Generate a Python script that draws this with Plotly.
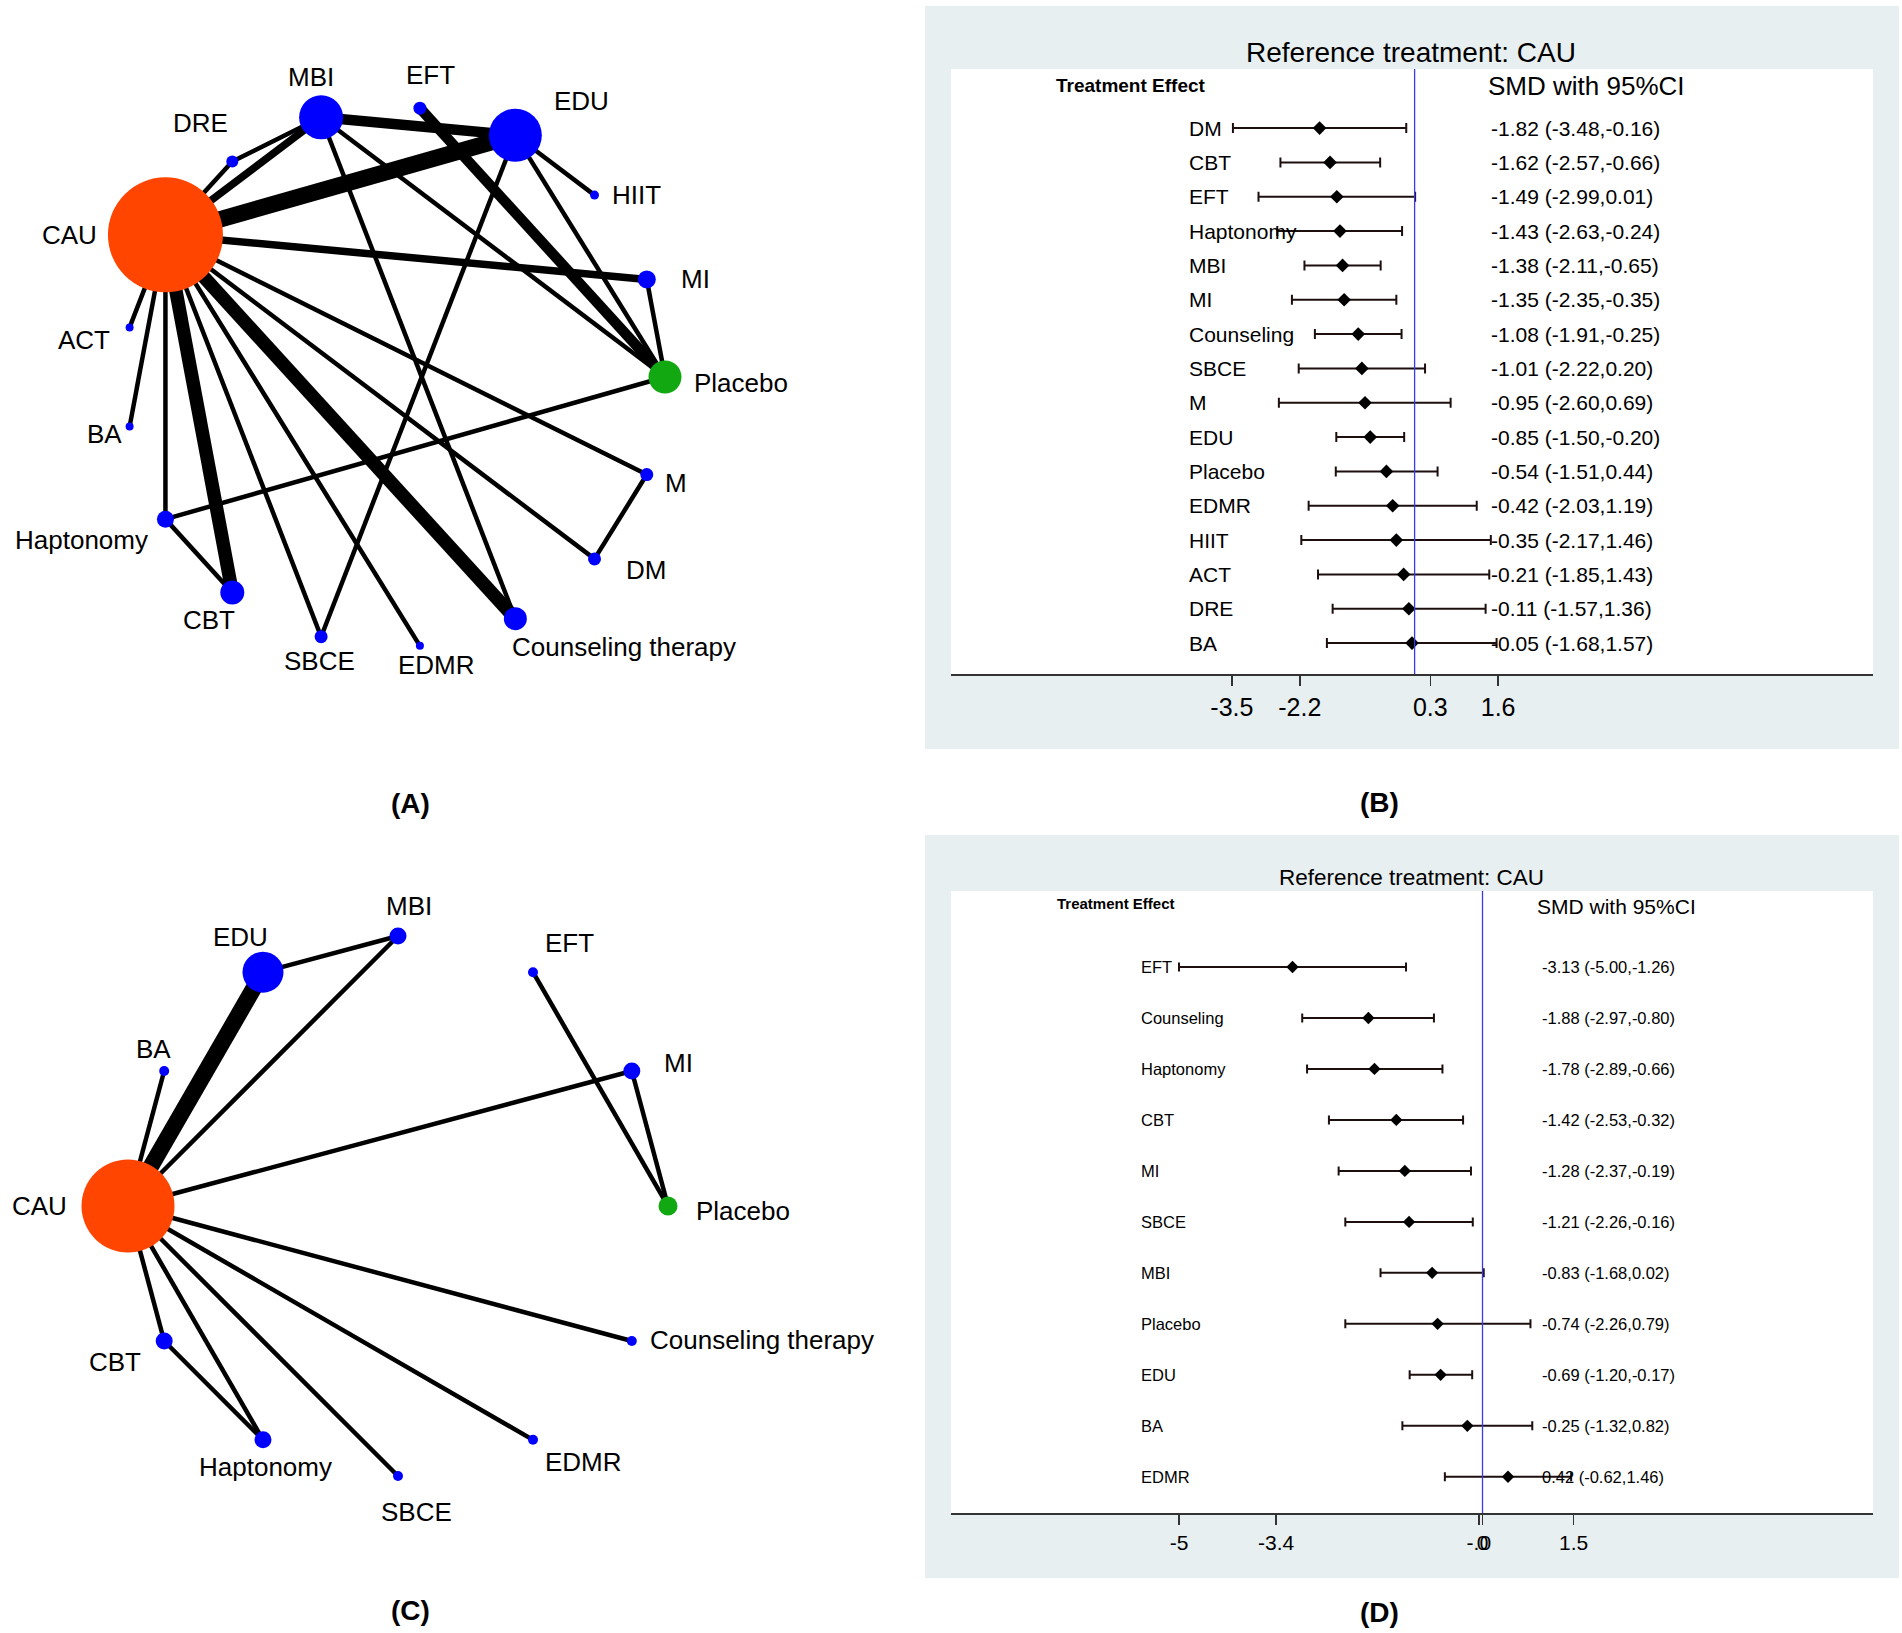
import math
import plotly.graph_objects as go

W, H = 1902, 1633

# ---------------- Panel B data (forest, all trials) ----------------
b_treat = ["DM", "CBT", "EFT", "Haptonomy", "MBI", "MI", "Counseling", "SBCE",
           "M", "EDU", "Placebo", "EDMR", "HIIT", "ACT", "DRE", "BA"]
b_est = [-1.82, -1.62, -1.49, -1.43, -1.38, -1.35, -1.08, -1.01,
         -0.95, -0.85, -0.54, -0.42, -0.35, -0.21, -0.11, -0.05]
b_lo = [-3.48, -2.57, -2.99, -2.63, -2.11, -2.35, -1.91, -2.22,
        -2.60, -1.50, -1.51, -2.03, -2.17, -1.85, -1.57, -1.68]
b_hi = [-0.16, -0.66, 0.01, -0.24, -0.65, -0.35, -0.25, 0.20,
        0.69, -0.20, 0.44, 1.19, 1.46, 1.43, 1.36, 1.57]
b_tickvals = [-3.5, -2.2, 0.3, 1.6]
b_ticktext = ["-3.5", "-2.2", "0.3", "1.6"]

# ---------------- Panel D data (forest, subset) ----------------
d_treat = ["EFT", "Counseling", "Haptonomy", "CBT", "MI", "SBCE",
           "MBI", "Placebo", "EDU", "BA", "EDMR"]
d_est = [-3.13, -1.88, -1.78, -1.42, -1.28, -1.21, -0.83, -0.74, -0.69, -0.25, 0.42]
d_lo = [-5.00, -2.97, -2.89, -2.53, -2.37, -2.26, -1.68, -2.26, -1.20, -1.32, -0.62]
d_hi = [-1.26, -0.80, -0.66, -0.32, -0.19, -0.16, 0.02, 0.79, -0.17, 0.82, 1.46]
d_tickvals = [-5, -3.4, -0.06, 0, 1.5]
d_ticktext = ["-5", "-3.4", "-.0", "0", "1.5"]

# ---------------- Panel A network ----------------
a_nodes = ["Placebo", "MI", "HIIT", "EDU", "EFT", "MBI", "DRE", "CAU", "ACT", "BA",
           "Haptonomy", "CBT", "SBCE", "EDMR", "Counseling therapy", "DM", "M"]
a_node_weight = [6.6, 3.6, 1.8, 10.6, 2.6, 8.8, 2.4, 23.0, 1.6, 1.6,
                 3.4, 4.8, 2.6, 1.6, 4.6, 2.6, 2.6]
a_edge_from = ["CAU", "CAU", "CAU", "MBI", "EFT", "CAU", "CAU", "CAU", "DRE", "MBI",
               "MBI", "EDU", "EDU", "EDU", "MI", "CAU", "M", "CAU", "CAU", "CAU",
               "CAU", "Haptonomy", "Haptonomy", "CAU", "CAU"]
a_edge_to = ["EDU", "Counseling therapy", "CBT", "EDU", "Placebo", "MBI", "MI", "DRE", "MBI", "Placebo",
             "Counseling therapy", "HIIT", "Placebo", "SBCE", "Placebo", "M", "DM", "DM", "EDMR", "SBCE",
             "Haptonomy", "CBT", "Placebo", "BA", "ACT"]
a_edge_studies = [5, 4, 4, 3, 3, 2, 2, 1, 1, 1,
                  1, 1, 1, 1, 1, 1, 1, 1, 1, 1,
                  1, 1, 1, 1, 1]

# ---------------- Panel C network ----------------
c_nodes = ["Placebo", "MI", "EFT", "MBI", "EDU", "BA", "CAU", "CBT", "Haptonomy",
           "SBCE", "EDMR", "Counseling therapy"]
c_node_weight = [3.8, 3.4, 2.0, 3.4, 8.2, 2.0, 18.6, 3.4, 3.4, 2.0, 2.0, 2.0]
c_edge_from = ["CAU", "CAU", "CAU", "EDU", "CAU", "EFT", "MI", "CAU", "CAU", "CAU", "CAU", "CAU", "CBT"]
c_edge_to = ["EDU", "BA", "MBI", "MBI", "MI", "Placebo", "Placebo", "Counseling therapy",
             "EDMR", "SBCE", "Haptonomy", "CBT", "Haptonomy"]
c_edge_studies = [5, 1, 1, 1, 1, 1, 1, 1, 1, 1, 1, 1, 1]

# ---------------- styling / layout constants ----------------
FONT = "Liberation Sans, Arial, Helvetica, sans-serif"
BG = "#E8EFF1"
NODE_COLORS = {"CAU": "#FF4500", "Placebo": "#12A812"}
NODE_DEFAULT = "#0000FF"


def px(x):
    return x / W


def py(y):
    return 1 - y / H


fig = go.Figure()


# ---------- network panels ----------
def add_network(nodes, weights, efrom, eto, estud, cx, cy, r, xa, ya, offsets):
    n = len(nodes)
    pos = {}
    for i, name in enumerate(nodes):
        a = 2 * math.pi * i / n
        pos[name] = (cx + r * math.cos(a), cy - r * math.sin(a))
    for f, t, k in zip(efrom, eto, estud):
        x0, y0 = pos[f]
        x1, y1 = pos[t]
        fig.add_trace(go.Scatter(x=[x0, x1], y=[y0, y1], mode="lines",
                                 line=dict(color="black", width=1.5 + 3.0 * k),
                                 xaxis=xa, yaxis=ya, hoverinfo="skip", showlegend=False))
    fig.add_trace(go.Scatter(
        x=[pos[nm][0] for nm in nodes], y=[pos[nm][1] for nm in nodes], mode="markers",
        marker=dict(size=[w * 5 for w in weights], opacity=1,
                    color=[NODE_COLORS.get(nm, NODE_DEFAULT) for nm in nodes],
                    line=dict(width=0)),
        xaxis=xa, yaxis=ya, hoverinfo="text", text=nodes, showlegend=False))
    for nm in nodes:
        dx, dy = offsets[nm]
        fig.add_annotation(x=pos[nm][0], y=pos[nm][1], xref=xa, yref=ya, text=nm,
                           showarrow=False, xshift=dx, yshift=-dy,
                           font=dict(family=FONT, size=26, color="black"))


a_offsets = {"CAU": (-96, 0), "DRE": (-32, -39), "MBI": (-10, -40), "EFT": (11, -33),
             "EDU": (66, -34), "HIIT": (42, 0), "MI": (49, 0), "Placebo": (76, 6),
             "M": (29, 8), "DM": (51, 11), "Counseling therapy": (109, 28), "EDMR": (17, 19),
             "SBCE": (-2, 24), "CBT": (-23, 28), "Haptonomy": (-84, 21), "BA": (-25, 7),
             "ACT": (-46, 13)}
c_offsets = {"CAU": (-89, 0), "BA": (-11, -22), "EDU": (-23, -35), "MBI": (11, -30),
             "EFT": (36, -29), "MI": (47, -8), "Placebo": (75, 5),
             "Counseling therapy": (130, -1), "EDMR": (50, 22), "SBCE": (18, 36),
             "Haptonomy": (2, 27), "CBT": (-49, 21)}

add_network(a_nodes, a_node_weight, a_edge_from, a_edge_to, a_edge_studies,
            395, 377, 270, "x3", "y3", a_offsets)
add_network(c_nodes, c_node_weight, c_edge_from, c_edge_to, c_edge_studies,
            398, 1206, 270, "x4", "y4", c_offsets)

# ---------- forest panels ----------
BAR = "#1e0f0f"


def add_forest(treat, est, lo, hi, xa, ya, msize, capw, label_x, value_x, fsize):
    rows = list(range(len(treat)))
    fig.add_trace(go.Scatter(
        x=est, y=rows, mode="markers",
        marker=dict(symbol="diamond", size=msize, color="black", opacity=1),
        error_x=dict(type="data", symmetric=False,
                     array=[h - e for h, e in zip(hi, est)],
                     arrayminus=[e - l for e, l in zip(est, lo)],
                     color=BAR, thickness=2, width=capw),
        xaxis=xa, yaxis=ya, hoverinfo="skip", showlegend=False))
    for i, (t, e, l, h) in enumerate(zip(treat, est, lo, hi)):
        fig.add_annotation(x=px(label_x), y=i, xref="paper", yref=ya, text=t,
                           showarrow=False, xanchor="left",
                           font=dict(family=FONT, size=fsize, color="black"))
        fig.add_annotation(x=px(value_x), y=i, xref="paper", yref=ya,
                           text=f"{e:.2f} ({l:.2f},{h:.2f})",
                           showarrow=False, xanchor="left",
                           font=dict(family=FONT, size=fsize, color="black"))


add_forest(b_treat, b_est, b_lo, b_hi, "x", "y", 10.5, 5, 1187, 1489, 21)
add_forest(d_treat, d_est, d_lo, d_hi, "x2", "y2", 9.5, 4.5, 1139, 1540, 16.5)

shapes = []
for (x0, y0, x1, y1), (wx0, wy0, wx1, wy1) in [((925, 6, 1899, 749), (951, 69, 1873, 674)),
                                                 ((925, 835, 1899, 1578), (951, 891, 1873, 1513))]:
    shapes.append(dict(type="rect", xref="paper", yref="paper", x0=px(x0), x1=px(x1),
                       y0=py(y1), y1=py(y0), fillcolor=BG, line=dict(width=0), layer="below"))
    shapes.append(dict(type="rect", xref="paper", yref="paper", x0=px(wx0), x1=px(wx1),
                       y0=py(wy1), y1=py(wy0), fillcolor="white", line=dict(width=0), layer="below"))
for xa, ya in [("x", "y"), ("x2", "y2")]:
    shapes.append(dict(type="line", xref=xa, yref=f"{ya} domain", x0=0, x1=0, y0=0, y1=1,
                       line=dict(color="#3a3ae8", width=1.3)))

# titles and headers
texts = [
    ("Reference treatment: CAU", 1411, 52, 28, False, "center"),
    ("Treatment Effect", 1054, 85, 19, True, "left"),
    ("SMD with 95%CI", 1486, 86, 26, False, "left"),
    ("Reference treatment: CAU", 1411, 877, 22.5, False, "center"),
    ("Treatment Effect", 1055, 903, 15, True, "left"),
    ("SMD with 95%CI", 1535, 907, 21, False, "left"),
    ("(A)", 410, 803, 28, True, "center"),
    ("(B)", 1379, 802, 28, True, "center"),
    ("(C)", 410, 1610, 28, True, "center"),
    ("(D)", 1379, 1612, 28, True, "center"),
]
for t, x, y, s, bold, anc in texts:
    fig.add_annotation(x=px(x), y=py(y), xref="paper", yref="paper",
                       text=f"<b>{t}</b>" if bold else t, showarrow=False,
                       xanchor=anc, yanchor="middle",
                       font=dict(family=FONT, size=s, color="black"))

forest_x = dict(showgrid=False, zeroline=False, showline=True, linecolor="#333333",
                linewidth=2, ticks="outside", ticklen=10, tickwidth=1.5, tickcolor="#333333",
                tickmode="array", tickangle=0, fixedrange=True)
hidden = dict(visible=False, showgrid=False, zeroline=False, fixedrange=True)

fig.update_layout(
    width=W, height=H, margin=dict(l=0, r=0, t=0, b=0),
    paper_bgcolor="white", plot_bgcolor="rgba(0,0,0,0)",
    showlegend=False, shapes=shapes,
    xaxis=dict(domain=[px(951), px(1873)], range=[-8.88, 8.78], anchor="y",
               tickvals=b_tickvals, ticktext=b_ticktext,
               tickfont=dict(family=FONT, size=25, color="black"), **forest_x),
    yaxis=dict(domain=[py(674), py(69)], range=[15.9, -1.72], anchor="x", **hidden),
    xaxis2=dict(domain=[px(951), px(1873)], range=[-8.756, 6.433], anchor="y2",
                tickvals=d_tickvals, ticktext=d_ticktext,
                tickfont=dict(family=FONT, size=21, color="black"), **forest_x),
    yaxis2=dict(domain=[py(1513), py(891)], range=[10.71, -1.49], anchor="x2", **hidden),
    xaxis3=dict(domain=[0, px(900)], range=[0, 900], anchor="y3", **hidden),
    yaxis3=dict(domain=[py(820), 1], range=[820, 0], anchor="x3", **hidden),
    xaxis4=dict(domain=[0, px(900)], range=[0, 900], anchor="y4", **hidden),
    yaxis4=dict(domain=[0, py(820)], range=[1633, 820], anchor="x4", **hidden),
)

fig.write_html("out.html", config={"staticPlot": True},
               post_script="document.body.style.margin='0';document.body.style.overflow='hidden';")
